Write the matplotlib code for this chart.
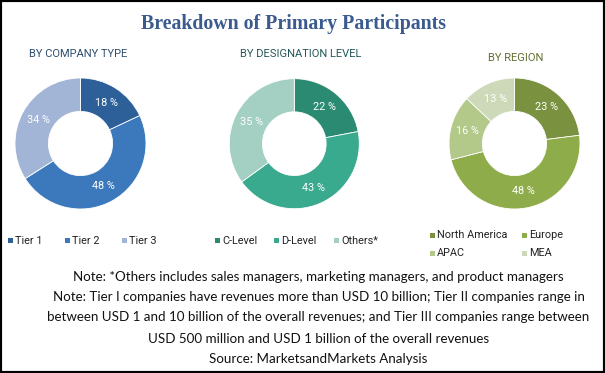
import matplotlib
matplotlib.use('Agg')
import matplotlib.pyplot as plt
from matplotlib.patches import Rectangle

W, H = 605, 373

# data
title = 'Breakdown of Primary Participants'

company_title = 'BY COMPANY TYPE'
company_labels = ['Tier 1', 'Tier 2', 'Tier 3']
company_share = [18, 48, 34]

designation_title = 'BY DESIGNATION LEVEL'
designation_labels = ['C-Level', 'D-Level', 'Others*']
designation_share = [22, 43, 35]

region_title = 'BY REGION'
region_labels = ['North America', 'Europe', 'APAC', 'MEA']
region_share = [23, 48, 16, 13]

notes = [
    'Note: *Others includes sales managers, marketing managers, and product managers',
    'Note: Tier I companies have revenues more than USD 10 billion; Tier II companies range in',
    'between USD 1 and 10 billion of the overall revenues; and Tier III companies range between',
    'USD 500 million and USD 1 billion of the overall revenues',
    'Source: MarketsandMarkets Analysis',
]

company_colors = ['#2D6099', '#3B78BC', '#A3B5D6']
designation_colors = ['#2B8A72', '#3AAA8F', '#A4CFC3']
region_colors = ['#7A9140', '#8EAD4A', '#B3C98A', '#CDD9B8']

NARROW = ['Roboto', 'DejaVu Sans']


def fx(x):
    return x / W


def fy(y):
    return 1 - y / H


fig = plt.figure(figsize=(6.05, 3.73), dpi=100)
fig.patch.set_facecolor('white')


def donut(cx, cy, r, values, colors):
    ax = fig.add_axes([fx(cx - r), fy(cy + r), 2 * r / W, 2 * r / H])
    wedges, texts, autotexts = ax.pie(
        values, colors=colors, startangle=90, counterclock=False,
        autopct='%.0f %%', pctdistance=0.74,
        wedgeprops=dict(width=0.51, edgecolor='white', linewidth=0.6))
    for t in autotexts:
        t.set_color('white')
        t.set_fontsize(7.8)
        t.set_family(NARROW)
    ax.set_xlim(-1, 1)
    ax.set_ylim(-1, 1)
    ax.set_aspect('equal')
    ax.axis('off')
    return ax


donut(80.5, 143.5, 65.5, company_share, company_colors)
donut(294.3, 143.7, 65, designation_share, designation_colors)
donut(514.5, 143.5, 65.5, region_share, region_colors)


def legend_item(x, y, color, label):
    fig.patches.append(Rectangle((fx(x), fy(y + 2.5)), 5 / W, 5 / H,
                                 transform=fig.transFigure,
                                 facecolor=color, edgecolor='none'))
    fig.text(fx(x + 7), fy(y), label, ha='left', va='center',
             fontsize=7.8, family=NARROW, color='#222222')


for lab, col, x in zip(company_labels, company_colors, [8, 65, 122]):
    legend_item(x, 240.7, col, lab)
for lab, col, x in zip(designation_labels, designation_colors, [215, 274, 334]):
    legend_item(x, 240.7, col, lab)
for lab, col, (x, y) in zip(region_labels, region_colors,
                            [(430, 235), (522, 235), (430, 253.3), (522, 253.3)]):
    legend_item(x, y, col, lab)

# titles
fig.text(fx(293.5), fy(24), title, ha='center', va='center',
         fontsize=14.3, fontweight='bold', family='Liberation Serif', color='#3B5B8E')
fig.text(fx(78), fy(54), company_title, ha='center', va='center',
         fontsize=8, family=NARROW, color='#2F4E6F')
fig.text(fx(301), fy(54), designation_title, ha='center', va='center',
         fontsize=8, family=NARROW, color='#245858')
fig.text(fx(516), fy(58), region_title, ha='center', va='center',
         fontsize=8, family=NARROW, color='#60702F')

# notes
for line, y in zip(notes, [277, 297.3, 316.7, 339.3, 359]):
    fig.text(fx(318.5), fy(y), line, ha='center', va='center',
             fontsize=9.65, family='Lato', color='#111111')

# border
fig.patches.append(Rectangle((0, 0), 1, 1, transform=fig.transFigure,
                             fill=False, edgecolor='black', linewidth=3))

fig.savefig('out.png', dpi=100)
